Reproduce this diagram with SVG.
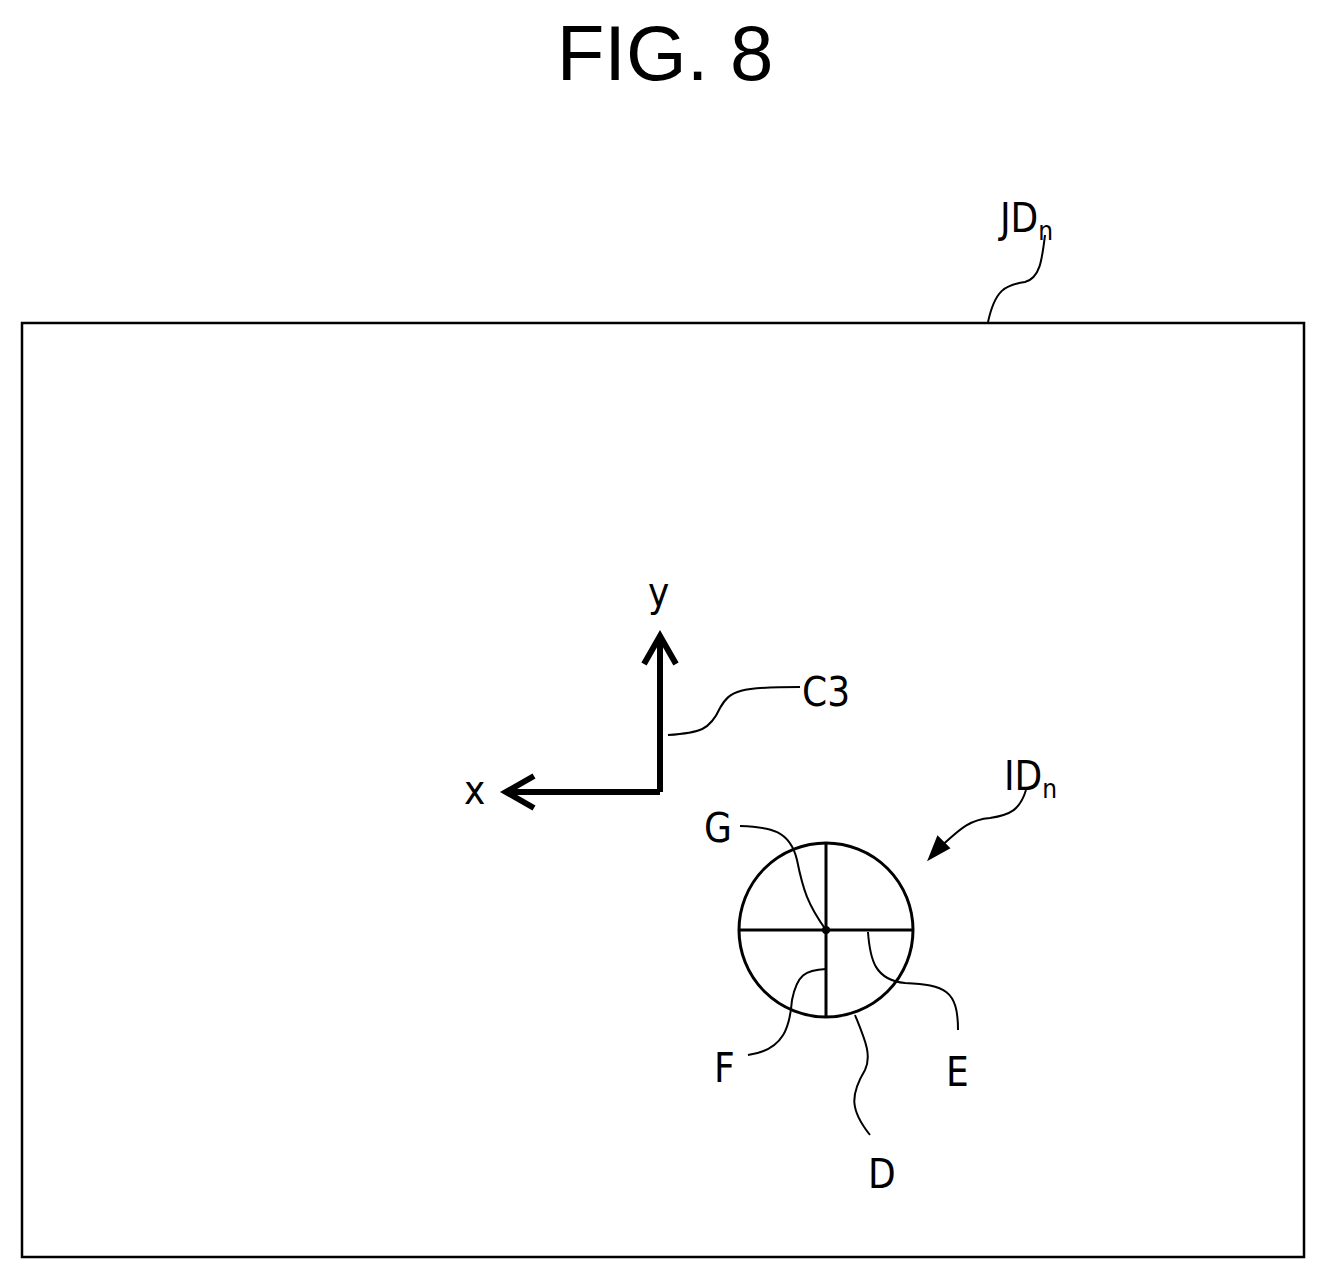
<svg xmlns="http://www.w3.org/2000/svg" width="1327" height="1279" viewBox="0 0 1327 1279">
<style>
.t{font-family:"Liberation Sans",Arial,sans-serif;fill:#000}
.n{font-family:"DejaVu Sans Condensed","Liberation Sans",sans-serif;fill:#000;font-size:40px}
.l{fill:none;stroke:#000;stroke-width:2}
</style>
<rect width="1327" height="1279" fill="#fff"/>
<text class="t" x="665" y="80" font-size="78" text-anchor="middle">FIG. 8</text>
<g id="frame"><rect x="22" y="323" width="1282" height="934" fill="none" stroke="#000" stroke-width="2.5"/>
<text class="n" x="1000" y="232">JD<tspan font-size="26" dy="8">n</tspan></text></g>
<g id="axes">
<path d="M660 792V640 M644 664L660 636L676 664 M660 792H510 M534 776L506 792L534 808" fill="none" stroke="#000" stroke-width="6" stroke-linejoin="miter"/>
<text class="n" x="648" y="606">y</text>
<text class="n" x="464" y="804">x</text>
<text class="n" x="802" y="706">C3</text>
</g>
<g id="target">
<circle cx="826" cy="930" r="87" fill="none" stroke="#000" stroke-width="3"/>
<path d="M826 843V1017 M739 930H913" stroke="#000" stroke-width="3"/>
<circle cx="826" cy="930" r="4"/>
<text class="n" x="1004" y="790">ID<tspan font-size="26" dy="8">n</tspan></text>
<text class="n" x="704" y="842">G</text>
<text class="n" x="714" y="1082">F</text>
<text class="n" x="946" y="1086">E</text>
<text class="n" x="868" y="1188">D</text>
</g>
<g id="connectors">
<path class="l" d="M988 322C995 290 1005 285 1025 282C1040 278 1042 260 1045 235"/>
<path class="l" d="M668 735C700 733 710 730 720 708C730 690 740 687 800 687"/>
<path class="l" d="M1026 790C1020 810 1010 815 990 818C965 820 955 835 940 847"/>
<path d="M930 858L938 838L948 848Z" stroke="#000" stroke-width="3"/>
<path class="l" d="M740 826C770 827 790 830 797 860C803 890 808 905 826 930"/>
<path class="l" d="M868 932C870 960 875 980 905 983C945 985 958 990 958 1030"/>
<path class="l" d="M826 969C805 970 797 975 792 1000C790 1025 785 1050 748 1055"/>
<path class="l" d="M855 1015C865 1040 872 1055 865 1070C850 1095 850 1110 870 1135"/>
</g>
</svg>
